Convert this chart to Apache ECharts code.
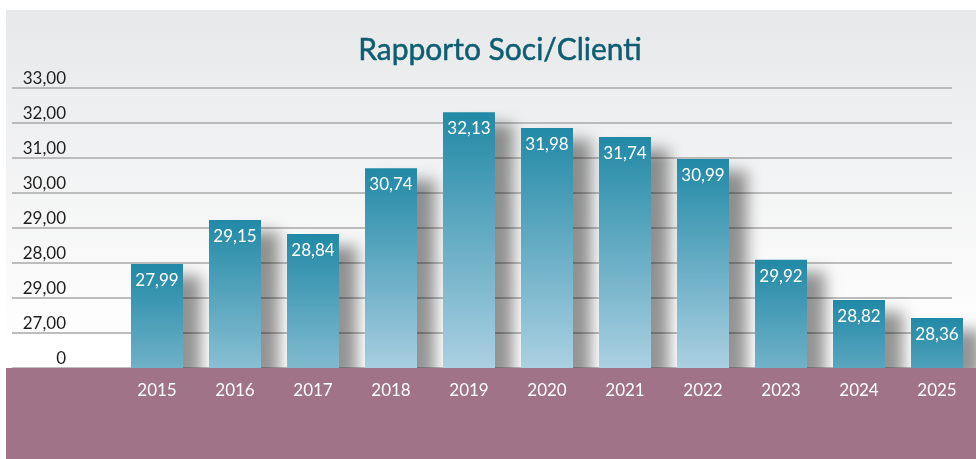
<!DOCTYPE html>
<html>
<head>
<meta charset="utf-8">
<script src="https://cdn.jsdelivr.net/npm/echarts@6/dist/echarts.min.js"></script>
<style>
    html, body { margin: 0; padding: 0; background: #ffffff; }
    #chart { width: 976px; height: 459px; }
</style>
</head>
<body>
<div id="chart"></div>
<script>
(function(){

    // years on the x axis
    let years = ['2015', '2016', '2017', '2018', '2019', '2020', '2021', '2022', '2023', '2024', '2025'];
    // numbers printed on the bars
    let valueLabels = ['27,99', '29,15', '28,84', '30,74', '32,13', '31,98', '31,74', '30,99', '29,92', '28,82', '28,36'];
    // bar heights as drawn, read in grid steps (the printed axis is not linear)
    let barHeights = [2.97, 4.23, 3.83, 5.71, 7.31, 6.86, 6.60, 5.97, 3.09, 1.94, 1.43];
    // tick labels, bottom to top, one per grid step
    let tickLabels = ['0', '27,00', '29,00', '28,00', '29,00', '30,00', '31,00', '32,00', '33,00'];

    let FONT = 'Lato, "Noto Sans", sans-serif';
    let TOP = [33, 137, 166];
    let BOTTOM = [171, 208, 226];

    let _barColor = function(params){
        let h = barHeights[params.dataIndex];
        let t = Math.min(1, 0.12 + 0.15 * h);
        let c = TOP.map((v, i) => Math.round(v + (BOTTOM[i] - v) * t));
        return new echarts.graphic.LinearGradient(0, 0, 0, 1, [
            { offset: 0, color: 'rgb(' + TOP.join(',') + ')' },
            { offset: 1, color: 'rgb(' + c.join(',') + ')' }
        ]);
    };

    let chart = echarts.init(document.getElementById('chart'), null, { renderer: 'canvas' });

    let opts = {
        animation: false,
        title: {
            text: 'Rapporto Soci/Clienti',
            left: 495,
            top: 30,
            textAlign: 'center',
            textStyle: {
                fontFamily: FONT,
                fontSize: 30,
                fontWeight: 'normal',
                color: '#0f5d71',
                textBorderColor: '#0f5d71',
                textBorderWidth: 0.5
            }
        },
        graphic: [
            {
                type: 'rect',
                z: -10,
                shape: { x: 6, y: 10, width: 970, height: 449 },
                style: {
                    fill: new echarts.graphic.LinearGradient(0, 0, 0, 1, [
                        { offset: 0, color: '#e7e8ea' },
                        { offset: 0.75, color: '#ffffff' },
                        { offset: 1, color: '#ffffff' }
                    ])
                }
            },
            {
                type: 'rect',
                z: 10,
                shape: { x: 6, y: 368, width: 970, height: 91 },
                style: { fill: '#a07389' }
            }
        ],
        grid: [
            // grid lines only
            { left: 12, right: 24, top: 88, bottom: 91 },
            // bars
            { left: 118, width: 861, top: 88, bottom: 91 }
        ],
        xAxis: [
            {
                gridIndex: 0,
                type: 'category',
                data: years,
                show: false
            },
            {
                gridIndex: 1,
                type: 'category',
                data: years,
                z: 20,
                axisLine: { show: false },
                axisTick: { show: false },
                axisLabel: {
                    color: '#ffffff',
                    fontFamily: FONT,
                    fontSize: 17,
                    margin: 14
                }
            }
        ],
        yAxis: [
            {
                gridIndex: 0,
                type: 'value',
                min: 0,
                max: 8,
                interval: 1,
                axisLine: { show: false },
                axisTick: { show: false },
                axisLabel: { show: false },
                splitLine: {
                    show: true,
                    lineStyle: { color: '#a9a9a9', width: 1.5 }
                }
            },
            {
                gridIndex: 1,
                type: 'value',
                min: 0,
                max: 8,
                interval: 1,
                axisLine: { show: false },
                axisTick: { show: false },
                splitLine: { show: false },
                axisLabel: {
                    color: '#1e1e1e',
                    fontFamily: FONT,
                    fontSize: 17,
                    margin: 52,
                    verticalAlign: 'bottom',
                    padding: [0, 0, 1, 0],
                    formatter: function(val){
                        return tickLabels[Math.round(val)];
                    }
                }
            }
        ],
        series: [
            {
                type: 'bar',
                xAxisIndex: 1,
                yAxisIndex: 1,
                barWidth: 52,
                data: barHeights,
                itemStyle: {
                    color: _barColor,
                    shadowColor: 'rgba(0,0,0,0.42)',
                    shadowBlur: 14,
                    shadowOffsetX: 18,
                    shadowOffsetY: 12
                },
                label: {
                    show: true,
                    position: 'insideTop',
                    distance: 8,
                    color: '#ffffff',
                    fontFamily: FONT,
                    fontSize: 17,
                    formatter: function(p){
                        return valueLabels[p.dataIndex];
                    }
                }
            }
        ]
    };

    chart.setOption(opts);
})();
</script>
</body>
</html>
